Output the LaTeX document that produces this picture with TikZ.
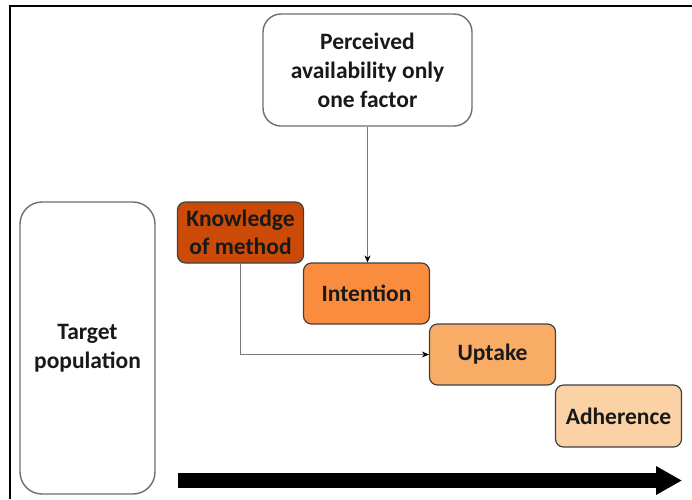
\documentclass[tikz,border=0pt]{standalone}
\usepackage{fontspec}
\setmainfont{Carlito}
\usetikzlibrary{arrows.meta}
\definecolor{knowfill}{RGB}{204,74,8}
\definecolor{intfill}{RGB}{250,140,62}
\definecolor{uptfill}{RGB}{249,172,102}
\definecolor{adhfill}{RGB}{250,210,165}
\definecolor{boxline}{RGB}{64,64,64}
\definecolor{whiteline}{RGB}{110,110,110}
\definecolor{linkgray}{RGB}{120,120,120}
\tikzset{
  stage/.style={draw=boxline, line width=1.2pt, rounded corners=8pt,
    minimum width=126pt, minimum height=61pt, inner sep=0pt,
    align=center, font=\fontsize{23.5}{28}\selectfont\bfseries, text=black!90},
  whitebox/.style={draw=whiteline, line width=1.4pt, fill=white,
    inner sep=0pt, align=center,
    font=\fontsize{23.5}{29}\selectfont\bfseries, text=black!90},
  link/.style={draw=linkgray, line width=0.9pt,
    -{Stealth[length=7pt,width=6pt,color=black]}},
}
\begin{document}
\begin{tikzpicture}[x=1pt,y=-1pt]
\useasboundingbox (0,0) rectangle (692,499);
% frame
\draw[line width=2pt] (9.5,499) -- (9.5,5.5) -- (692,5.5);
% boxes
\node[whitebox, rounded corners=18pt, minimum width=209pt, minimum height=112pt]
  (perc) at (367.5,70) {Perceived\\availability only\\one factor};
\node[whitebox, rounded corners=22pt, minimum width=135pt, minimum height=292pt]
  (tgt) at (87.5,348) {Target\\population};
\node[stage, fill=knowfill] (know) at (240.5,232.5) {Knowledge\\of method};
\node[stage, fill=intfill] (int) at (366.5,293.5) {Intention};
\node[stage, fill=uptfill] (upt) at (492.5,354.5) {Uptake};
\node[stage, fill=adhfill, minimum height=62pt] (adh) at (618.5,416) {Adherence};
% connectors
\draw[link] (perc.south) -- (perc.south |- int.north);
\draw[link] (know.south) |- (upt.west);
% time arrow
\coordinate (tstart) at (178,480.5);
\coordinate (tend) at (682,480.5);
\draw[line width=15pt, -{Triangle[length=26pt,width=27pt]}] (tstart) -- (tend);
\end{tikzpicture}
\end{document}
